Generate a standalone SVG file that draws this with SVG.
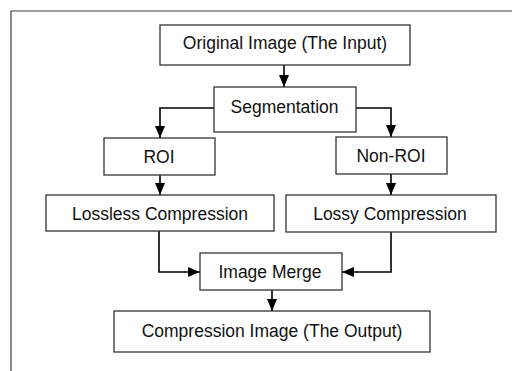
<svg xmlns="http://www.w3.org/2000/svg" width="512" height="371" viewBox="0 0 512 371">
<style>
.box{fill:#fff;stroke:#333;stroke-width:1.3}
.lbl{font-family:"Liberation Sans",Arial,sans-serif;font-size:17.5px;fill:#111;text-anchor:middle}
.con{fill:none;stroke:#000;stroke-width:1.6}
.frame{fill:none;stroke:#404040;stroke-width:1.2}
</style>
<defs>
<marker id="ah" markerUnits="userSpaceOnUse" markerWidth="12" markerHeight="10" refX="12" refY="5" orient="auto">
<path d="M0,0 L12,5 L0,10 z" fill="#000"/>
</marker>
</defs>
<rect width="512" height="371" fill="#fff"/>
<path class="frame" d="M11,371 V11 H512"/>
<g id="connectors">
<path class="con" d="M284,65 V87" marker-end="url(#ah)"/>
<path class="con" d="M214,108 H160 V138" marker-end="url(#ah)"/>
<path class="con" d="M356,108 H391 V137" marker-end="url(#ah)"/>
<path class="con" d="M160,175 V195" marker-end="url(#ah)"/>
<path class="con" d="M391,174 V195" marker-end="url(#ah)"/>
<path class="con" d="M159,231 V272 H200" marker-end="url(#ah)"/>
<path class="con" d="M391,232 V272 H342" marker-end="url(#ah)"/>
<path class="con" d="M272,290 V311" marker-end="url(#ah)"/>
</g>
<g id="original"><rect class="box" x="160" y="25" width="250" height="40"/><text class="lbl" x="285" y="48.5">Original Image (The Input)</text></g>
<g id="segmentation"><rect class="box" x="214" y="87" width="142" height="45"/><text class="lbl" x="284.5" y="112.5">Segmentation</text></g>
<g id="roi"><rect class="box" x="104" y="138" width="111" height="37"/><text class="lbl" x="159" y="162.5">ROI</text></g>
<g id="nonroi"><rect class="box" x="336" y="137" width="111" height="37"/><text class="lbl" x="391" y="162">Non-ROI</text></g>
<g id="lossless"><rect class="box" x="46" y="195" width="228" height="36"/><text class="lbl" x="160" y="220">Lossless Compression</text></g>
<g id="lossy"><rect class="box" x="286" y="195" width="210" height="37"/><text class="lbl" x="390" y="220">Lossy Compression</text></g>
<g id="merge"><rect class="box" x="200" y="253" width="142" height="37"/><text class="lbl" x="270" y="277.5">Image Merge</text></g>
<g id="output"><rect class="box" x="114" y="311" width="316" height="41"/><text class="lbl" x="272" y="336.5">Compression Image (The Output)</text></g>
</svg>
